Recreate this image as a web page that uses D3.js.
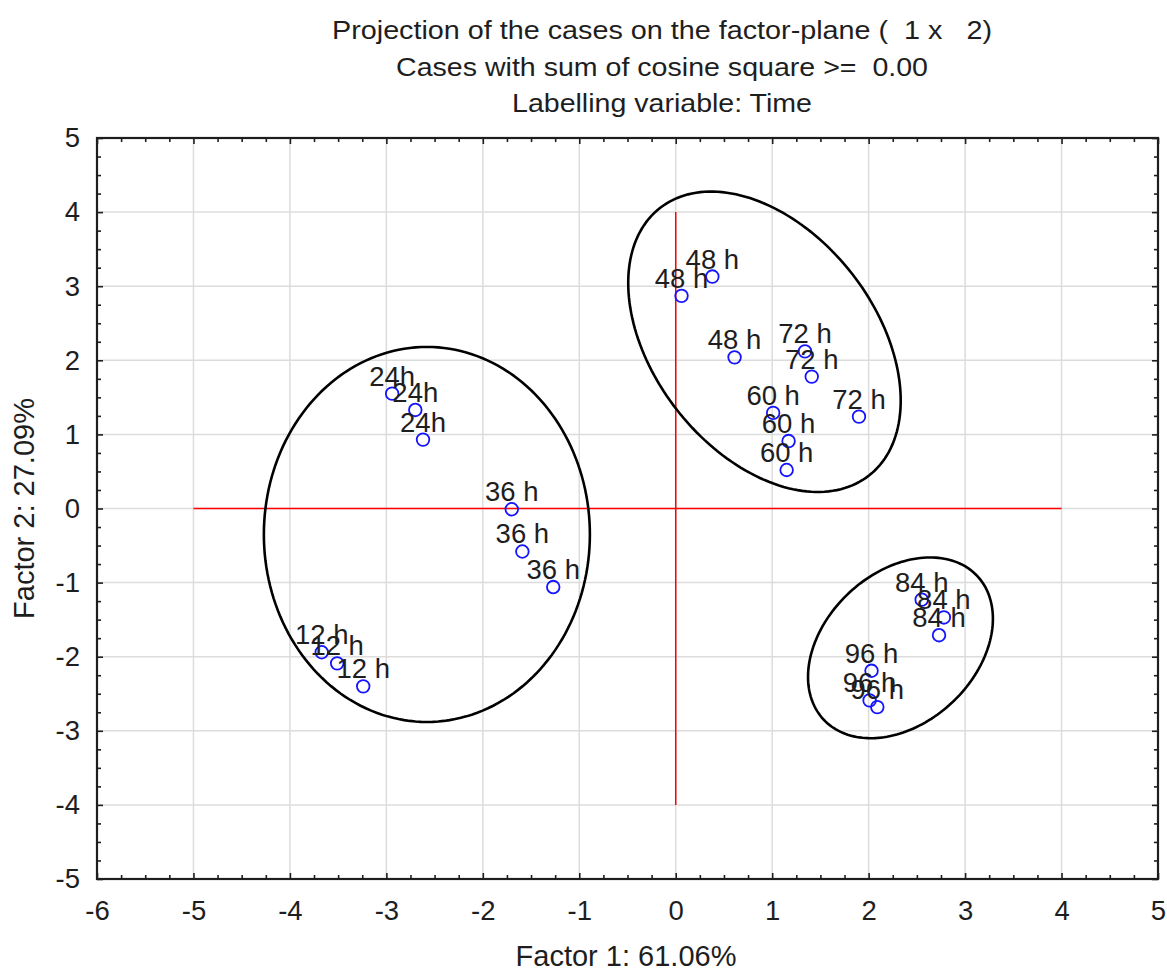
<!DOCTYPE html>
<html><head><meta charset="utf-8">
<script src="https://cdn.jsdelivr.net/npm/d3@7"></script>
<style>
html,body{margin:0;padding:0;background:#fff;}
svg{display:block;font-family:"Liberation Sans",Arial,sans-serif;}
</style></head><body>
<svg id="chart" width="1167" height="972"></svg>
<script>
// Case coordinates on the first factor plane, labelled by sampling time
const caseLabels = ["12 h","12 h","12 h","24h","24h","24h","36 h","36 h","36 h",
  "48 h","48 h","48 h","60 h","60 h","60 h","72 h","72 h","72 h",
  "84 h","84 h","84 h","96 h","96 h","96 h"];
const factor1 = [-3.67,-3.51,-3.24,-2.94,-2.70,-2.62,-1.70,-1.59,-1.27,
  0.38,0.06,0.61,1.01,1.17,1.15,1.34,1.41,1.90,
  2.55,2.78,2.73,2.03,2.01,2.09];
const factor2 = [-1.94,-2.09,-2.40,1.55,1.33,0.93,-0.01,-0.58,-1.06,
  3.13,2.87,2.04,1.29,0.91,0.52,2.12,1.78,1.24,
  -1.23,-1.47,-1.71,-2.19,-2.59,-2.68];

const xTickValues = [-6,-5,-4,-3,-2,-1,0,1,2,3,4,5];
const yTickValues = [-5,-4,-3,-2,-1,0,1,2,3,4,5];
const titleLines = ["Projection of the cases on the factor-plane (  1 x   2)",
  "Cases with sum of cosine square >=  0.00",
  "Labelling variable: Time"];
const xAxisTitle = "Factor 1: 61.06%";
const yAxisTitle = "Factor 2: 27.09%";

// Group outlines: centre (data units), semi-axes (x-axis units), tilt (degrees)
const ellipseCx = [-2.58, 0.92, 2.33];
const ellipseCy = [-0.35, 2.25, -1.88];
const ellipseA = [1.69, 1.76, 1.09];
const ellipseB = [1.944, 1.15, 0.78];
const ellipseAngle = [0, 52, -43];

// Red origin cross: horizontal at y = 0, vertical at x = 0
const crossH = [-5, 4];
const crossV = [-4, 4];

const svg = d3.select("#chart");
const plotL = 97, plotR = 1158, plotT = 138, plotB = 879;

const x = d3.scaleLinear().domain([-6, 5]).range([plotL, plotR]);
const y = d3.scaleLinear().domain([-5, 5]).range([plotB, plotT]);

const ink = "#1e1e1e";

// Titles
const titleY = [39, 76, 112];
const titleW = [660, 532, 300];
svg.append("g").selectAll("text").data(titleLines).join("text")
  .attr("x", 662).attr("y", (d, i) => titleY[i])
  .attr("text-anchor", "middle")
  .attr("font-size", 25).attr("fill", ink)
  .attr("textLength", (d, i) => titleW[i]).attr("lengthAdjust", "spacingAndGlyphs")
  .style("white-space", "pre")
  .text(d => d);

// Grid
const grid = svg.append("g").attr("stroke", "#dcdcdc").attr("stroke-width", 1.5);
grid.selectAll("line.gx").data(xTickValues.filter(v => v > -6 && v < 5)).join("line")
  .attr("class", "gx")
  .attr("x1", d => x(d)).attr("x2", d => x(d)).attr("y1", plotT).attr("y2", plotB);
grid.selectAll("line.gy").data(yTickValues.filter(v => v > -5 && v < 5)).join("line")
  .attr("class", "gy")
  .attr("y1", d => y(d)).attr("y2", d => y(d)).attr("x1", plotL).attr("x2", plotR);

// Origin cross
svg.append("line").attr("x1", x(crossH[0])).attr("x2", x(crossH[1]))
  .attr("y1", y(0)).attr("y2", y(0)).attr("stroke", "#ff0000").attr("stroke-width", 1.5);
svg.append("line").attr("x1", x(0)).attr("x2", x(0))
  .attr("y1", y(crossV[0])).attr("y2", y(crossV[1])).attr("stroke", "#ff0000").attr("stroke-width", 1.5);

// Ellipses around the time groups
const unit = x(1) - x(0);
const tSteps = d3.range(0, 2 * Math.PI, Math.PI / 90);
const ellipseLine = d3.line().curve(d3.curveLinearClosed);
svg.append("g").selectAll("path").data(ellipseCx.map((c, i) => i)).join("path")
  .attr("d", i => {
    const cx = x(ellipseCx[i]), cy = y(ellipseCy[i]);
    const a = ellipseA[i] * unit, b = ellipseB[i] * unit;
    const th = ellipseAngle[i] * Math.PI / 180;
    return ellipseLine(tSteps.map(t => {
      const u = a * Math.cos(t), v = b * Math.sin(t);
      return [cx + u * Math.cos(th) - v * Math.sin(th), cy + u * Math.sin(th) + v * Math.cos(th)];
    }));
  })
  .attr("fill", "none").attr("stroke", "#000").attr("stroke-width", 2.6);

// Points and labels
const pts = caseLabels.map((l, i) => ({label: l, f1: factor1[i], f2: factor2[i]}));
const pg = svg.append("g");
pg.selectAll("circle").data(pts).join("circle")
  .attr("cx", d => x(d.f1)).attr("cy", d => y(d.f2)).attr("r", 6.3)
  .attr("fill", "none").attr("stroke", "#1414ff").attr("stroke-width", 1.8);
pg.selectAll("text").data(pts).join("text")
  .attr("x", d => x(d.f1)).attr("y", d => y(d.f2) - 8)
  .attr("text-anchor", "middle").attr("font-size", 27.5).attr("fill", ink)
  .text(d => d.label);

// Axes with inward major and minor ticks on all four sides
const minorX = d3.range(-6, 5.001, 0.25).filter(v => Math.abs(v - Math.round(v)) > 1e-6);
const minorY = d3.range(-5, 5.001, 0.25).filter(v => Math.abs(v - Math.round(v)) > 1e-6);
const fmt = d => String(d);

function styleAxis(g) {
  g.select(".domain").remove();
  g.selectAll(".tick line").attr("stroke", ink).attr("stroke-width", 1.6);
  g.selectAll("text").attr("fill", ink).attr("font-size", 27.5).attr("font-family", null);
}

svg.append("g").attr("transform", `translate(0,${plotB})`)
  .call(d3.axisBottom(x).tickValues(xTickValues).tickFormat(fmt).tickSize(-6).tickPadding(21))
  .call(styleAxis);
svg.append("g").attr("transform", `translate(0,${plotB})`)
  .call(d3.axisBottom(x).tickValues(minorX).tickFormat("").tickSize(-4)).call(styleAxis);
svg.append("g").attr("transform", `translate(0,${plotT})`)
  .call(d3.axisTop(x).tickValues(xTickValues).tickFormat("").tickSize(-6)).call(styleAxis);
svg.append("g").attr("transform", `translate(0,${plotT})`)
  .call(d3.axisTop(x).tickValues(minorX).tickFormat("").tickSize(-4)).call(styleAxis);

svg.append("g").attr("transform", `translate(${plotL},0)`)
  .call(d3.axisLeft(y).tickValues(yTickValues).tickFormat(fmt).tickSize(-6).tickPadding(17))
  .call(styleAxis);
svg.append("g").attr("transform", `translate(${plotL},0)`)
  .call(d3.axisLeft(y).tickValues(minorY).tickFormat("").tickSize(-4)).call(styleAxis);
svg.append("g").attr("transform", `translate(${plotR},0)`)
  .call(d3.axisRight(y).tickValues(yTickValues).tickFormat("").tickSize(-6)).call(styleAxis);
svg.append("g").attr("transform", `translate(${plotR},0)`)
  .call(d3.axisRight(y).tickValues(minorY).tickFormat("").tickSize(-4)).call(styleAxis);

// Frame
svg.append("rect").attr("x", plotL).attr("y", plotT)
  .attr("width", plotR - plotL).attr("height", plotB - plotT)
  .attr("fill", "none").attr("stroke", ink).attr("stroke-width", 2.2);

// Axis titles
svg.append("text").attr("x", 626).attr("y", 966)
  .attr("text-anchor", "middle").attr("font-size", 29).attr("fill", ink)
  .text(xAxisTitle);
svg.append("text")
  .attr("transform", `translate(34,${(plotT + plotB) / 2}) rotate(-90)`)
  .attr("text-anchor", "middle").attr("font-size", 29).attr("fill", ink)
  .text(yAxisTitle);
</script>
</body></html>
